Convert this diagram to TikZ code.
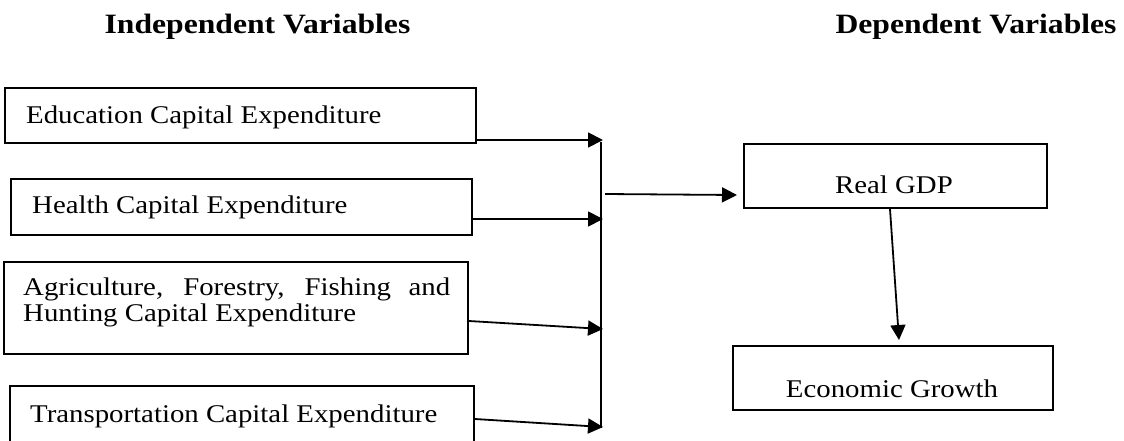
\documentclass[tikz,border=0pt]{standalone}
\usepackage{fontspec}
\setmainfont{Liberation Serif}[FakeStretch=1.13]
\usetikzlibrary{arrows.meta,calc}
\newcommand\mytxtfont{\fontsize{25.5}{22}\selectfont\lineskiplimit=-50pt\relax}
\tikzset{
  box/.style={draw, line width=2pt, rectangle, inner sep=0pt, anchor=north west},
  txt/.style={inner sep=0pt, font=\mytxtfont},
  ttl/.style={inner sep=0pt, anchor=base, font=\fontsize{28}{30}\selectfont\bfseries},
  arr/.style={line width=1.8pt, -{Triangle[length=15pt,width=15pt]}},
  bus/.style={line width=1.2pt}
}
\begin{document}
\begin{tikzpicture}[x=1pt,y=-1pt]
\useasboundingbox (0,0) rectangle (1124,440);
\clip (0,0) rectangle (1124,440);
% titles
\node[ttl] (tin) at (257.5,33) {Independent Variables};
\node[ttl] (tdep) at (976,33) {Dependent Variables};
% left boxes
\node[box, minimum width=471pt, minimum height=55pt] (edu) at (4,87) {};
\node[box, minimum width=461pt, minimum height=56pt] (hea) at (10,178) {};
\node[box, minimum width=464pt, minimum height=92pt] (agr) at (3,261) {};
\node[box, minimum width=464pt, minimum height=60pt] (tra) at (9,385) {};
% right boxes
\node[box, minimum width=303pt, minimum height=64pt] (gdp) at (743,143) {};
\node[box, minimum width=320pt, minimum height=64pt] (eco) at (732,345) {};
% texts
\node[txt, anchor=base west] (tedu) at (26,123) {Education Capital Expenditure};
\node[txt, anchor=base west] (thea) at (32,213) {Health Capital Expenditure};
\node[txt, anchor=base west, align=left] (tagr) at (23,321) {\makebox[427pt][s]{Agriculture, Forestry, Fishing and}\\[4pt]Hunting Capital Expenditure};
\node[txt, anchor=base west] (ttra) at (30,422) {Transportation Capital Expenditure};
\node[txt, anchor=base] (tgdp) at (894,193) {Real GDP};
\node[txt, anchor=base] (teco) at (892,397) {Economic Growth};
% bus
\coordinate (b1) at (603,140);
\coordinate (b2) at (603,219);
\coordinate (b3) at (603,329);
\coordinate (b4) at (603,427);
\coordinate (bt) at (601,142);
\coordinate (bb) at (601,428);
\coordinate (m1) at (605,194);
\draw[bus] (bt) -- (bb);
% arrows
\draw[arr] (edu.east |- b1) -- (b1);
\draw[arr] (hea.east |- b2) -- (b2);
\draw[arr] ($(agr.east)+(0,13)$) -- (b3);
\draw[arr] ($(tra.east)+(0,3)$) -- (b4);
\draw[arr] (m1) -- ($(gdp.west)+(-6,19)$);
\draw[arr] ($(gdp.south)+(-5.5,0)$) -- ($(eco.north)+(6,-5)$);
\end{tikzpicture}
\end{document}
